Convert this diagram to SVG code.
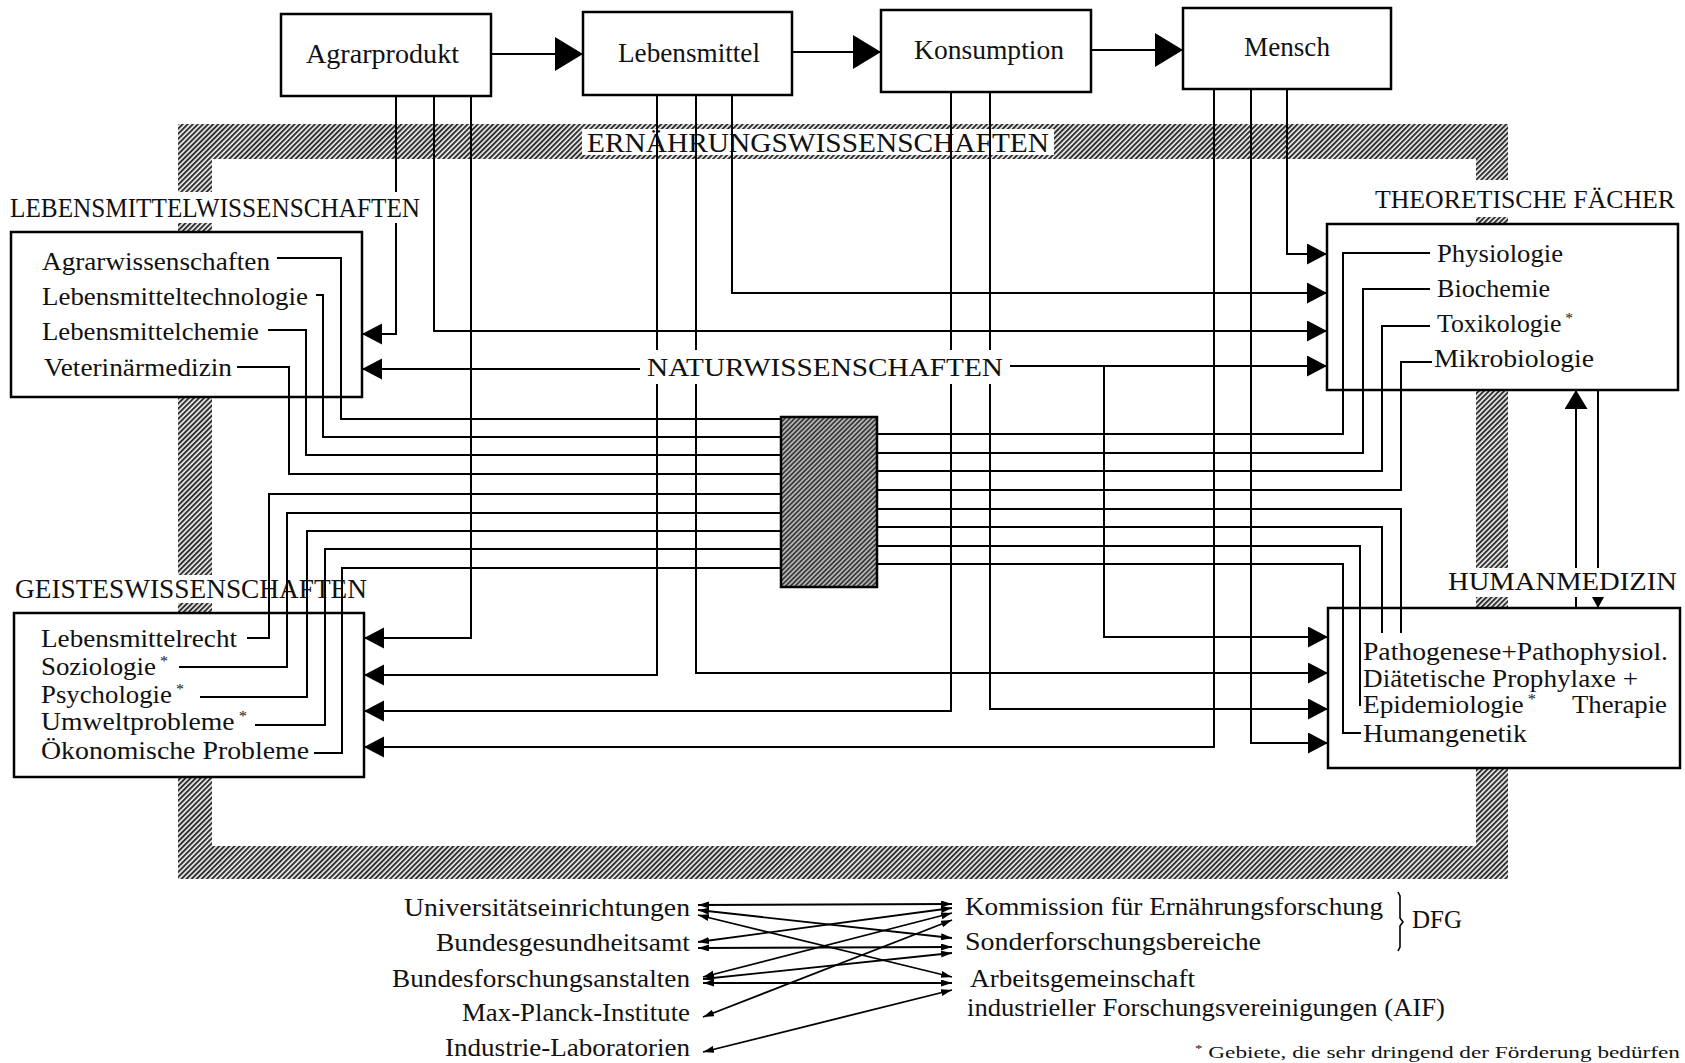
<svg xmlns="http://www.w3.org/2000/svg" width="1685" height="1063" viewBox="0 0 1685 1063">
<style>
  .t { font-family: "Liberation Serif", "DejaVu Serif", serif; fill: #111; }
  .lab { font-size: 28px; }
  .it { font-size: 25px; }
  .box { fill: #fff; stroke: #000; stroke-width: 2.5; }
  .c { fill: none; stroke: #000; stroke-width: 2; }
  .cb { fill: none; stroke: #000; stroke-width: 1.8; marker-start: url(#aTiny); marker-end: url(#aTiny); }
  .bg { fill: #fff; stroke: none; }
</style>
<defs>
  <pattern id="hatch" patternUnits="userSpaceOnUse" width="3.6" height="3.6" patternTransform="rotate(45)">
    <rect width="3.6" height="3.6" fill="#eee"/>
    <line x1="1" y1="0" x2="1" y2="3.6" stroke="#2a2a2a" stroke-width="1.9"/>
  </pattern>
  <pattern id="hatch2" patternUnits="userSpaceOnUse" width="3.4" height="3.4" patternTransform="rotate(45)">
    <rect width="3.4" height="3.4" fill="#bbb"/>
    <line x1="1" y1="0" x2="1" y2="3.4" stroke="#2a2a2a" stroke-width="1.6"/>
  </pattern>
  <marker id="aBig" markerUnits="userSpaceOnUse" markerWidth="30" markerHeight="34" refX="28" refY="17" orient="auto">
    <path d="M0,0 L28,17 L0,34 Z" fill="#000"/>
  </marker>
  <marker id="aMid" markerUnits="userSpaceOnUse" markerWidth="22" markerHeight="22" refX="20" refY="10.5" orient="auto">
    <path d="M0,0 L20,10.5 L0,21 Z" fill="#000"/>
  </marker>
  <marker id="aUp" markerUnits="userSpaceOnUse" markerWidth="20" markerHeight="24" refX="19" refY="11.5" orient="auto">
    <path d="M0,0 L19,11.5 L0,23 Z" fill="#000"/>
  </marker>
  <marker id="aSmall" markerUnits="userSpaceOnUse" markerWidth="12" markerHeight="12" refX="11" refY="6" orient="auto">
    <path d="M0,0 L11,6 L0,12 Z" fill="#000"/>
  </marker>
  <marker id="aTiny" markerUnits="userSpaceOnUse" markerWidth="12" markerHeight="8" refX="11" refY="3.5" orient="auto-start-reverse">
    <path d="M0,0 L11,3.5 L0,7 Z" fill="#000"/>
  </marker>
</defs>
<rect width="1685" height="1063" fill="#fff"/>

<!-- Frame: Ernährungswissenschaften -->
<g id="frame">
  <path d="M178,124 H1508 V879 H178 Z M212,159 V846 H1476 V159 Z" fill="url(#hatch)" fill-rule="evenodd"/>
  <rect class="bg" x="582" y="129" width="472" height="26"/>
  <text class="t" x="587" y="152" font-size="27" textLength="462" lengthAdjust="spacingAndGlyphs">ERNÄHRUNGSWISSENSCHAFTEN</text>
</g>

<!-- band gaps under labels that only hide the band -->
<g id="band-gaps">
  <rect class="bg" x="174" y="575" width="42" height="28"/>
  <rect class="bg" x="1470" y="180" width="42" height="37"/>
</g>

<!-- Nodes -->
<g id="node-agrarprodukt">
  <rect class="box" x="281" y="14" width="210" height="82"/>
  <text class="t" x="306" y="63" font-size="27" textLength="153" lengthAdjust="spacingAndGlyphs">Agrarprodukt</text>
</g>
<g id="node-lebensmittel">
  <rect class="box" x="583" y="12" width="209" height="83"/>
  <text class="t" x="618" y="62" font-size="27" textLength="142" lengthAdjust="spacingAndGlyphs">Lebensmittel</text>
</g>
<g id="node-konsumption">
  <rect class="box" x="881" y="10" width="210" height="82"/>
  <text class="t" x="914" y="59" font-size="27" textLength="150" lengthAdjust="spacingAndGlyphs">Konsumption</text>
</g>
<g id="node-mensch">
  <rect class="box" x="1183" y="8" width="208" height="81" stroke-width="4.5"/>
  <text class="t" x="1244" y="56" font-size="27" textLength="86" lengthAdjust="spacingAndGlyphs">Mensch</text>
</g>

<g id="node-lebensmittelwissenschaften">
  <rect class="box" x="11" y="232" width="351" height="165"/>
  <text class="t it" x="42" y="270" textLength="228" lengthAdjust="spacingAndGlyphs">Agrarwissenschaften</text>
  <text class="t it" x="42" y="305" textLength="266" lengthAdjust="spacingAndGlyphs">Lebensmitteltechnologie</text>
  <text class="t it" x="42" y="340" textLength="217" lengthAdjust="spacingAndGlyphs">Lebensmittelchemie</text>
  <text class="t it" x="44" y="376" textLength="188" lengthAdjust="spacingAndGlyphs">Veterinärmedizin</text>
</g>

<g id="node-geisteswissenschaften">
  <rect class="box" x="14" y="613" width="350" height="164"/>
  <text class="t it" x="41" y="647" textLength="196" lengthAdjust="spacingAndGlyphs">Lebensmittelrecht</text>
  <text class="t it" x="41" y="675" textLength="127" lengthAdjust="spacingAndGlyphs">Soziologie<tspan font-size="15" dy="-9"> *</tspan></text>
  <text class="t it" x="41" y="703" textLength="143" lengthAdjust="spacingAndGlyphs">Psychologie<tspan font-size="15" dy="-9"> *</tspan></text>
  <text class="t it" x="41" y="730" textLength="206" lengthAdjust="spacingAndGlyphs">Umweltprobleme<tspan font-size="15" dy="-9"> *</tspan></text>
  <text class="t it" x="41" y="759" textLength="268" lengthAdjust="spacingAndGlyphs">Ökonomische Probleme</text>
</g>

<g id="node-theoretische">
  <rect class="box" x="1327" y="224" width="351" height="166"/>
  <text class="t it" x="1437" y="262" textLength="126" lengthAdjust="spacingAndGlyphs">Physiologie</text>
  <text class="t it" x="1437" y="297" textLength="113" lengthAdjust="spacingAndGlyphs">Biochemie</text>
  <text class="t it" x="1437" y="332" textLength="136" lengthAdjust="spacingAndGlyphs">Toxikologie<tspan font-size="15" dy="-9"> *</tspan></text>
  <text class="t it" x="1434" y="367" textLength="160" lengthAdjust="spacingAndGlyphs">Mikrobiologie</text>
</g>

<g id="node-humanmedizin">
  <rect class="box" x="1328" y="608" width="352" height="160"/>
  <text class="t it" x="1363" y="660" textLength="305" lengthAdjust="spacingAndGlyphs">Pathogenese+Pathophysiol.</text>
  <text class="t it" x="1363" y="687" textLength="275" lengthAdjust="spacingAndGlyphs">Diätetische Prophylaxe +</text>
  <text class="t it" x="1363" y="713" textLength="173" lengthAdjust="spacingAndGlyphs">Epidemiologie<tspan font-size="15" dy="-9"> *</tspan></text>
  <text class="t it" x="1572" y="713" textLength="95" lengthAdjust="spacingAndGlyphs">Therapie</text>
  <text class="t it" x="1363" y="742" textLength="164" lengthAdjust="spacingAndGlyphs">Humangenetik</text>
</g>

<g id="node-center">
  <rect x="781" y="417" width="96" height="170" fill="url(#hatch2)" stroke="#000" stroke-width="2.5"/>
</g>

<!-- Connectors -->
<g id="connectors">
  <path class="c" d="M491,54 H583" marker-end="url(#aBig)"/>
  <path class="c" d="M792,52 H881" marker-end="url(#aBig)"/>
  <path class="c" d="M1091,50 H1183" marker-end="url(#aBig)"/>

  <path class="c" d="M396,96 V334 H362" marker-end="url(#aMid)"/>
  <path class="c" d="M434,96 V331 H1327" marker-end="url(#aMid)"/>
  <path class="c" d="M471,96 V638 H364" marker-end="url(#aMid)"/>
  <path class="c" d="M657,95 V675 H364" marker-end="url(#aMid)"/>
  <path class="c" d="M696,95 V673 H1328" marker-end="url(#aMid)"/>
  <path class="c" d="M732,95 V293 H1327" marker-end="url(#aMid)"/>
  <path class="c" d="M951,92 V711 H364" marker-end="url(#aMid)"/>
  <path class="c" d="M990,92 V709 H1328" marker-end="url(#aMid)"/>
  <path class="c" d="M1214,89 V747 H364" marker-end="url(#aMid)"/>
  <path class="c" d="M1251,89 V743 H1328" marker-end="url(#aMid)"/>
  <path class="c" d="M1287,89 V254 H1327" marker-end="url(#aMid)"/>
  <path class="c" d="M645,369 H362" marker-end="url(#aMid)"/>
  <path class="c" d="M1010,366 H1327" marker-end="url(#aMid)"/>
  <path class="c" d="M1104,366 V637 H1328" marker-end="url(#aMid)"/>

  <path class="c" d="M277,258 H341 V419 H781"/>
  <path class="c" d="M316,295 H323 V437 H781"/>
  <path class="c" d="M268,330 H306 V455 H781"/>
  <path class="c" d="M237,367 H289 V474 H781"/>
  <path class="c" d="M247,638 H269 V494 H781"/>
  <path class="c" d="M179,667 H287 V513 H781"/>
  <path class="c" d="M200,697 H307 V531 H781"/>
  <path class="c" d="M255,725 H325 V549 H781"/>
  <path class="c" d="M314,753 H342 V568 H781"/>
  <path class="c" d="M877,434 H1343 V253 H1430"/>
  <path class="c" d="M877,453 H1363 V289 H1430"/>
  <path class="c" d="M877,471 H1382 V326 H1430"/>
  <path class="c" d="M877,490 H1401 V362 H1432"/>
  <path class="c" d="M877,509 H1401 V633"/>
  <path class="c" d="M877,527 H1382 V633"/>
  <path class="c" d="M877,546 H1360 V706"/>
  <path class="c" d="M877,564 H1343 V733 H1361"/>

  <path class="c" d="M1576,608 V390" marker-end="url(#aUp)"/>
  <path class="c" d="M1598,390 V608" marker-end="url(#aSmall)"/>

  <path class="cb" d="M698,905 L952,904"/>
  <path class="cb" d="M698,910 L952,938"/>
  <path class="cb" d="M698,915 L952,977"/>
  <path class="cb" d="M698,942 L952,908"/>
  <path class="cb" d="M698,948 L952,947"/>
  <path class="cb" d="M703,977 L952,913"/>
  <path class="cb" d="M703,979 L952,953"/>
  <path class="cb" d="M703,983 L952,983"/>
  <path class="cb" d="M703,1017 L952,920"/>
  <path class="cb" d="M703,1052 L952,990"/>
</g>

<!-- Region labels -->
<g id="labels">
  <rect class="bg" x="5" y="192" width="420" height="31"/>
  <text class="t" x="10" y="217" font-size="28" textLength="410" lengthAdjust="spacingAndGlyphs">LEBENSMITTELWISSENSCHAFTEN</text>
  <text class="t" x="15" y="598" font-size="27" textLength="352" lengthAdjust="spacingAndGlyphs">GEISTESWISSENSCHAFTEN</text>
  <text class="t" x="1375" y="208" font-size="26" textLength="300" lengthAdjust="spacingAndGlyphs">THEORETISCHE FÄCHER</text>
  <rect class="bg" x="1444" y="568" width="238" height="29"/>
  <text class="t" x="1448" y="590" font-size="25" textLength="229" lengthAdjust="spacingAndGlyphs">HUMANMEDIZIN</text>
  <rect class="bg" x="640" y="350" width="368" height="34"/>
  <text class="t" x="647" y="376" font-size="25" textLength="356" lengthAdjust="spacingAndGlyphs">NATURWISSENSCHAFTEN</text>
</g>

<!-- Funding institutions -->
<g id="node-institutes">
  <text class="t it" x="690" y="916" text-anchor="end" textLength="286" lengthAdjust="spacingAndGlyphs">Universitätseinrichtungen</text>
  <text class="t it" x="690" y="951" text-anchor="end" textLength="254" lengthAdjust="spacingAndGlyphs">Bundesgesundheitsamt</text>
  <text class="t it" x="690" y="987" text-anchor="end" textLength="298" lengthAdjust="spacingAndGlyphs">Bundesforschungsanstalten</text>
  <text class="t it" x="690" y="1021" text-anchor="end" textLength="228" lengthAdjust="spacingAndGlyphs">Max-Planck-Institute</text>
  <text class="t it" x="690" y="1056" text-anchor="end" textLength="245" lengthAdjust="spacingAndGlyphs">Industrie-Laboratorien</text>
</g>
<g id="node-funders">
  <text class="t it" x="965" y="915" textLength="418" lengthAdjust="spacingAndGlyphs">Kommission für Ernährungsforschung</text>
  <text class="t it" x="965" y="950" textLength="296" lengthAdjust="spacingAndGlyphs">Sonderforschungsbereiche</text>
  <text class="t it" x="970" y="987" textLength="225" lengthAdjust="spacingAndGlyphs">Arbeitsgemeinschaft</text>
  <text class="t it" x="967" y="1016" textLength="478" lengthAdjust="spacingAndGlyphs">industrieller Forschungsvereinigungen (AIF)</text>
  <path d="M1398,892 L1400,896 V918 L1403,922 L1400,926 V947 L1398,951" fill="none" stroke="#000" stroke-width="1.6"/>
  <text class="t it" x="1412" y="928" textLength="50" lengthAdjust="spacingAndGlyphs">DFG</text>
</g>
<g id="footnote">
  <text class="t" x="1195" y="1058" font-size="17" textLength="485" lengthAdjust="spacingAndGlyphs"><tspan font-size="11" dy="-6">*</tspan><tspan dy="6"> Gebiete, die sehr dringend der Förderung bedürfen</tspan></text>
</g>
</svg>
